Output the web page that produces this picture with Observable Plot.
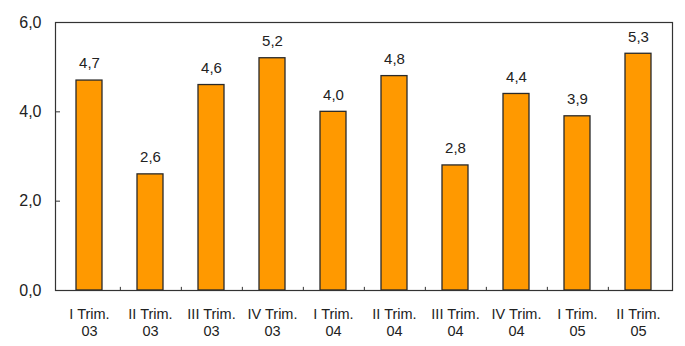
<!DOCTYPE html>
<html>
<head>
<meta charset="utf-8">
<script src="https://cdn.jsdelivr.net/npm/d3@7"></script>
<script src="https://cdn.jsdelivr.net/npm/@observablehq/plot@0.6"></script>
<style>
  html, body { margin: 0; padding: 0; background: #ffffff; }
  #chart { width: 685px; height: 346px; }
  svg { font-family: "Liberation Sans", Arial, sans-serif; }
</style>
</head>
<body>
<div id="chart"></div>
<script>
const quarters = ["I Trim.", "II Trim.", "III Trim.", "IV Trim.", "I Trim.", "II Trim.", "III Trim.", "IV Trim.", "I Trim.", "II Trim."];
const years = ["03", "03", "03", "03", "04", "04", "04", "04", "05", "05"];
const values = [4.7, 2.6, 4.6, 5.2, 4.0, 4.8, 2.8, 4.4, 3.9, 5.3];
const yTicks = [0, 2, 4, 6];

const categories = quarters.map((q, i) => q + "\n" + years[i]);
const data = categories.map((c, i) => ({cat: c, value: values[i]}));
const fmt = d => d.toFixed(1).replace(".", ",");

const chart = Plot.plot({
  width: 685,
  height: 346,
  marginLeft: 55,
  marginRight: 13,
  marginTop: 22,
  marginBottom: 56,
  style: {background: "#ffffff", color: "#222"},
  x: {domain: categories, paddingInner: 0.58, paddingOuter: 0.29, label: null},
  y: {domain: [0, 6], label: null},
  marks: [
    Plot.barY(data, {x: "cat", y: "value", fill: "#ff9900", stroke: "#2a2a2a", strokeWidth: 1.3}),
    Plot.text(data, {x: "cat", y: "value", text: d => fmt(d.value), dy: -17, fontSize: 15, fill: "#222", style: "letter-spacing:0.6px"}),
    Plot.ruleX(categories.slice(0, -1), {x: d => d, y1: 0, y2: 0.07, dx: 30.85, stroke: "#333"}),
    Plot.tickY(yTicks.slice(1, -1), {y: d => d, insetRight: 612, stroke: "#333"}),
    Plot.axisY(yTicks, {tickSize: 0, tickPadding: 14, tickFormat: fmt, fontSize: 16, fill: "#222", style: "letter-spacing:1.2px"}),
    Plot.axisX({tickSize: 0, tickPadding: 16, fontSize: 14.5, lineHeight: 1.2, fill: "#222", style: "letter-spacing:0.4px"}),
    Plot.frame({stroke: "#333", strokeWidth: 1.2})
  ]
});
document.getElementById("chart").appendChild(chart);
</script>
</body>
</html>
